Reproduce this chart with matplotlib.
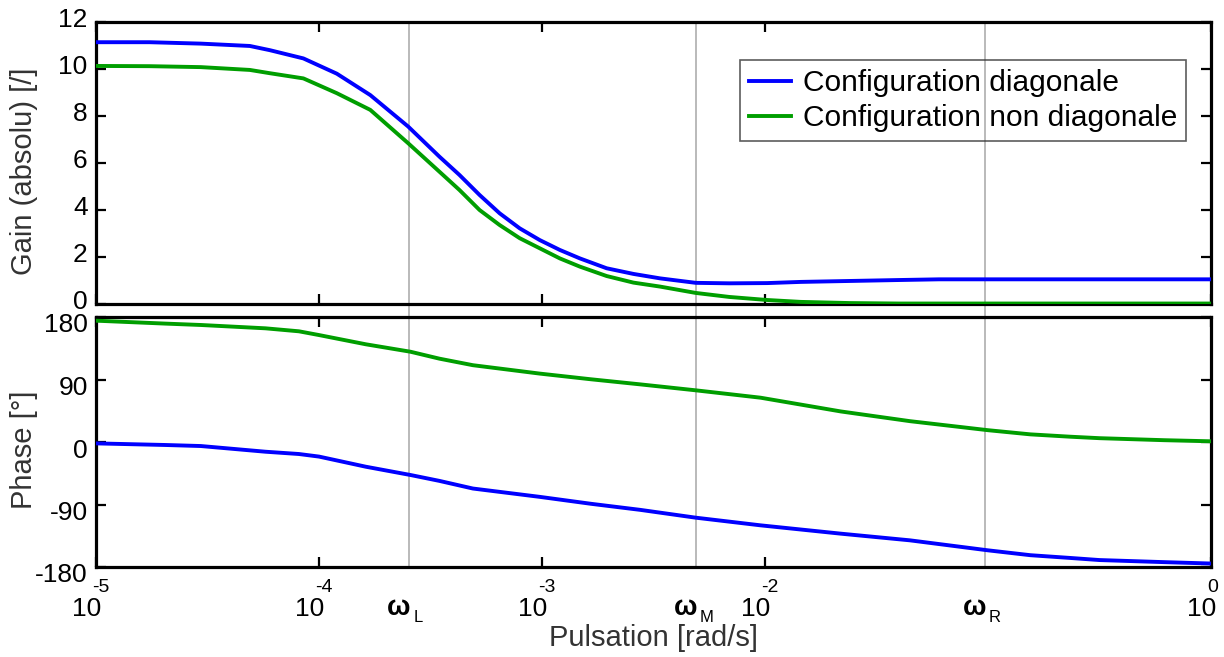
import matplotlib
matplotlib.use("Agg")
import matplotlib.pyplot as plt
import numpy as np
from matplotlib.transforms import offset_copy, ScaledTranslation

plt.rcParams["font.family"] = ["Liberation Sans", "DejaVu Sans"]
plt.rcParams["axes.unicode_minus"] = False

# --- data (log10 of pulsation in rad/s) ---
gain_log_w = [-5.0, -4.76, -4.53, -4.31, -4.22, -4.07, -3.92, -3.77, -3.6,
              -3.46, -3.37, -3.28, -3.19, -3.1, -3.01, -2.92, -2.83, -2.71,
              -2.59, -2.47, -2.31, -2.16, -1.99, -1.84, -1.62, -1.4, -1.22,
              -0.95, -0.5, 0.0]
gain_diag = [11.14, 11.14, 11.08, 10.98, 10.8, 10.45, 9.8, 8.89, 7.55,
             6.27, 5.49, 4.64, 3.86, 3.22, 2.72, 2.3, 1.94, 1.52,
             1.28, 1.09, 0.9, 0.88, 0.89, 0.94, 0.98, 1.02, 1.05,
             1.05, 1.05, 1.05]
gain_non_diag = [10.13, 10.12, 10.08, 9.96, 9.82, 9.6, 8.97, 8.26, 6.84,
                 5.63, 4.85, 4.0, 3.36, 2.8, 2.37, 1.94, 1.59, 1.19,
                 0.91, 0.74, 0.47, 0.3, 0.17, 0.09, 0.04, 0.02, 0.02,
                 0.02, 0.02, 0.02]

phase_log_w = [-5.0, -4.69, -4.53, -4.24, -4.09, -4.0, -3.79, -3.59, -3.46,
               -3.31, -3.01, -2.78, -2.56, -2.31, -2.02, -1.66, -1.35, -1.0,
               -0.81, -0.63, -0.5, -0.21, 0.0]
phase_diag = [-2, -4.3, -5.8, -14, -17.3, -21, -35.6, -47.5, -56,
              -67, -79, -89, -97.7, -109, -120, -132, -141.6, -156,
              -163, -167, -170, -173, -175]
phase_non_diag = [174.7, 170.5, 168.5, 163.7, 159.4, 154, 140.7, 130, 120,
                  110.6, 98.5, 90.3, 83, 74.4, 63.8, 44, 30, 17,
                  11, 7.6, 5.5, 2.6, 1.0]

decade_ticks = [1e-5, 1e-4, 1e-3, 1e-2, 1e0]
decade_exponents = ["-5", "-4", "-3", "-2", "0"]
omega_marks = [2.54e-4, 4.9e-3, 9.7e-2]
omega_subscripts = ["L", "M", "R"]

series_labels = ["Configuration diagonale", "Configuration non diagonale"]
blue = "#0000ff"
green = "#009e00"
grey = "#b4b4b4"

w_gain = 10.0 ** np.array(gain_log_w)
w_phase = 10.0 ** np.array(phase_log_w)

fig = plt.figure(figsize=(12.24, 6.57), dpi=100)
left, right = 96 / 1224, 1211 / 1224
ax_gain = fig.add_axes([left, 1 - 304 / 657, right - left, (304 - 22) / 657])
ax_phase = fig.add_axes([left, 1 - 567 / 657, right - left, (567 - 317) / 657])

ax_gain.plot(w_gain, gain_diag, color=blue, lw=2.8, label=series_labels[0], zorder=3)
ax_gain.plot(w_gain, gain_non_diag, color=green, lw=2.8, label=series_labels[1], zorder=3)
ax_phase.plot(w_phase, phase_diag, color=blue, lw=2.8, zorder=3)
ax_phase.plot(w_phase, phase_non_diag, color=green, lw=2.8, zorder=3)

for w in omega_marks:
    ax_gain.axvline(w, ymin=-0.05, ymax=1, color=grey, lw=1.3, clip_on=False, zorder=1)
    ax_phase.axvline(w, color=grey, lw=1.3, zorder=1)

ax_gain.set_ylim(0, 12)
ax_gain.set_yticks(np.arange(0, 13, 2))
ax_phase.set_ylim(-180, 180)
ax_phase.set_yticks([-180, -90, 0, 90, 180])

for ax in (ax_gain, ax_phase):
    ax.set_xscale("log")
    ax.set_xlim(1e-5, 1e0)
    ax.set_xticks(decade_ticks)
    ax.xaxis.set_minor_locator(matplotlib.ticker.NullLocator())
    ax.set_xticklabels([])
    ax.tick_params(direction="in", length=7, width=1.6, top=True, right=True,
                   labelsize=19, pad=6)
    for sp in ax.spines.values():
        sp.set_linewidth(2.3)

# MATLAB-like vertical placement of y tick labels
for lab in ax_gain.get_yticklabels():
    lab.set_transform(lab.get_transform() + ScaledTranslation(0, 0.045, fig.dpi_scale_trans))
for lab in ax_phase.get_yticklabels():
    lab.set_transform(lab.get_transform() + ScaledTranslation(0, -0.06, fig.dpi_scale_trans))

ax_gain.set_ylabel("Gain (absolu) [/]", fontsize=21, color="#333333")
ax_gain.yaxis.set_label_coords(-0.052, 0.47)
ax_phase.set_ylabel("Phase [°]", fontsize=21, color="#333333")
ax_phase.yaxis.set_label_coords(-0.052, 0.47)

# x tick labels drawn as base + exponent
xtrans = ax_phase.get_xaxis_transform()
for w, ex in zip(decade_ticks, decade_exponents):
    ax_phase.text(w, 0, "10", fontsize=19, ha="right", va="center",
                  transform=offset_copy(xtrans, fig=fig, x=5, y=-42, units="dots"))
    ax_phase.text(w, 0, ex, fontsize=14, ha="left", va="center",
                  transform=offset_copy(xtrans, fig=fig, x=-4, y=-21, units="dots"))
for w, sub in zip(omega_marks, omega_subscripts):
    ax_phase.text(w, 0, "ω", fontsize=20, fontweight="bold", ha="right", va="baseline",
                  transform=offset_copy(xtrans, fig=fig, x=1, y=-48, units="dots"))
    ax_phase.text(w, 0, sub, fontsize=12, ha="left", va="baseline",
                  transform=offset_copy(xtrans, fig=fig, x=4, y=-55, units="dots"))

fig.text((96 + 1211) / 2 / 1224, 1 - 638 / 657, "Pulsation [rad/s]", fontsize=21,
         color="#333333", ha="center", va="center")

leg = ax_gain.legend(loc="upper right", bbox_to_anchor=(0.978, 0.865), fontsize=21.5,
                     frameon=True, fancybox=False, borderpad=0.3, labelspacing=0.25,
                     handlelength=1.4, handletextpad=0.4, borderaxespad=0)
leg.get_frame().set_facecolor("none")
leg.get_frame().set_edgecolor("#333333")
leg.get_frame().set_linewidth(1.2)
for line in leg.get_lines():
    line.set_linewidth(2.8)

fig.savefig("out.png", dpi=100)
